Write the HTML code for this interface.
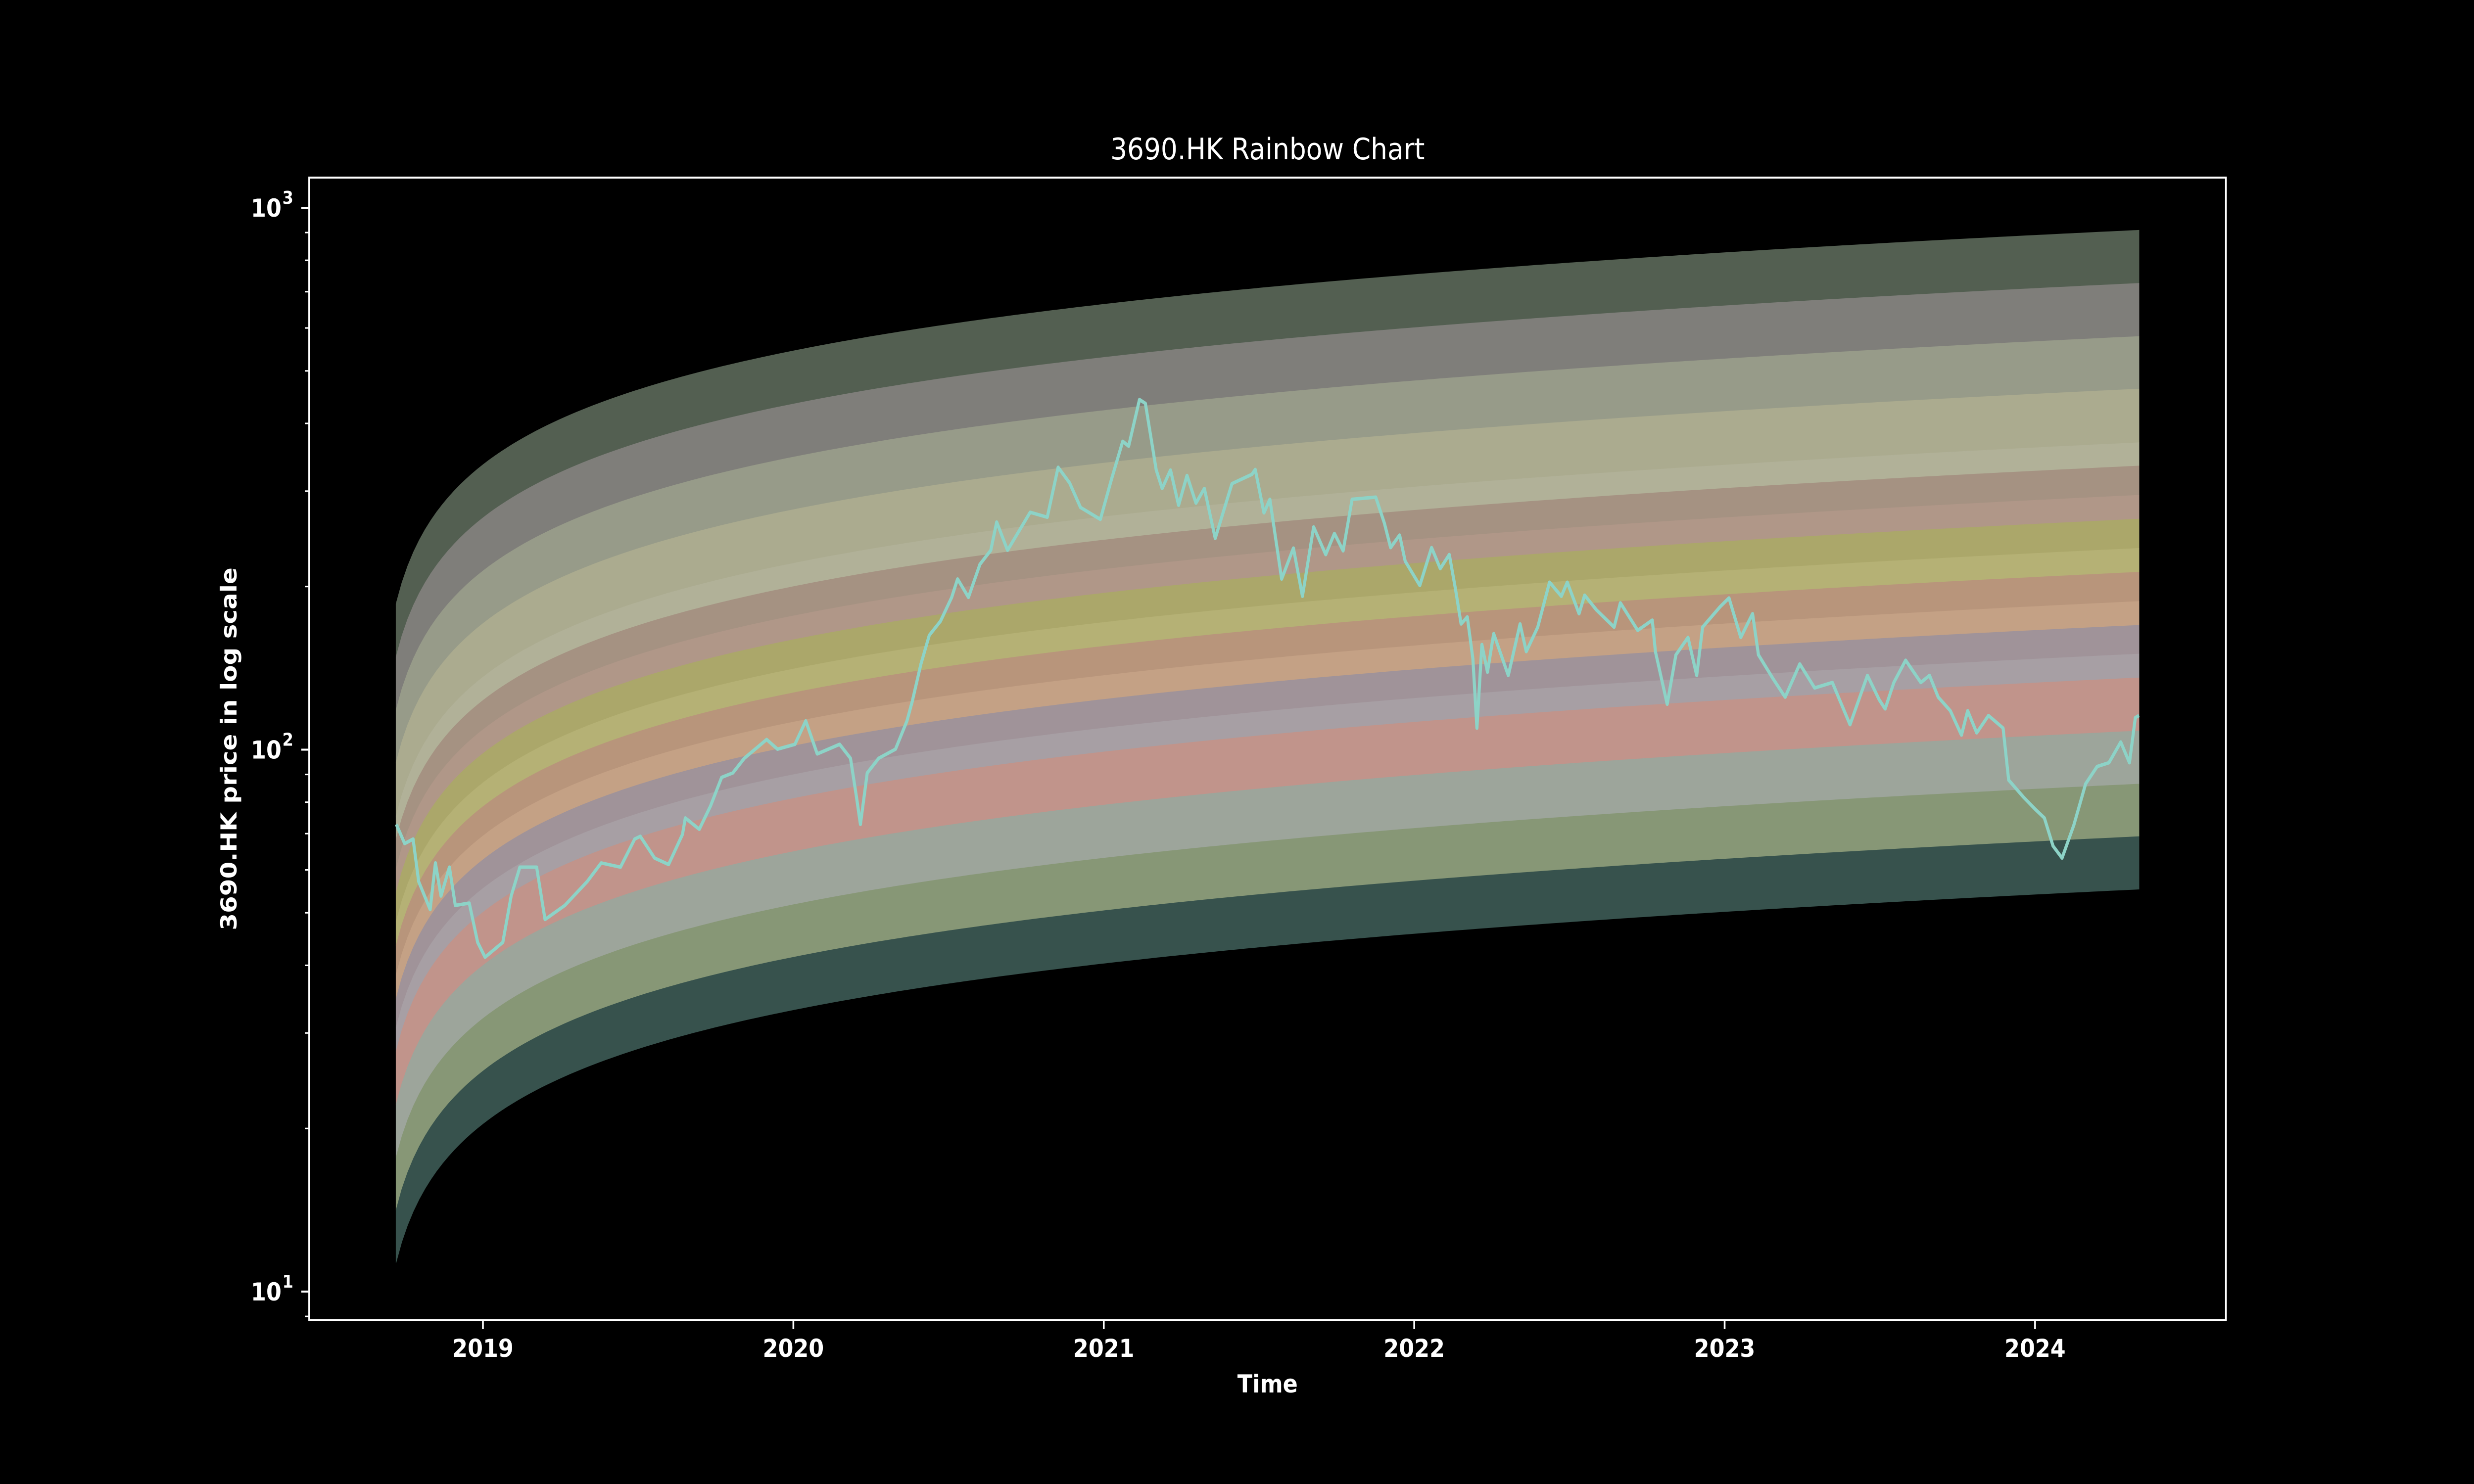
<!DOCTYPE html>
<html><head><meta charset="utf-8"><style>
html,body{margin:0;padding:0;background:#000;overflow:hidden;width:100%;height:100%;}
svg{display:block;width:100vw;height:100vh;}
text{font-family:"DejaVu Sans","Liberation Sans",sans-serif;fill:#fff;}
</style></head><body>
<svg id="chart" viewBox="0 0 5625 3000" preserveAspectRatio="none" xmlns="http://www.w3.org/2000/svg">
<rect width="5625" height="3000" fill="#000"/>
<g id="bands"></g>
<g id="price"></g>
<g id="axes"></g>
<rect x="703" y="359" width="4358" height="2310" fill="none" stroke="#fff" stroke-width="4"/>
<text x="2882" y="322" font-size="60" text-anchor="middle">3690.HK Rainbow Chart</text>
<text x="2882" y="2815" font-size="50" font-weight="bold" text-anchor="middle">Time</text>
<text x="0" y="0" font-size="50" font-weight="bold" text-anchor="middle" transform="translate(538,1514) rotate(-90)">3690.HK price in log scale</text>
</svg>
<script>
const bandOffsets = [1.216,1.118,1.020,0.923,0.824,0.781,0.727,0.683,0.629,0.585,0.531,0.487,0.434,0.390,0.292,0.194,0.097,0];
const bandColors = ["#535f51","#7f7e7a","#979b89","#abab8f","#b1b198","#a59282","#b09788","#aba76a","#b5b175","#b8957b","#c4a185","#a09399","#a79fa4","#c1948b","#9da59b","#879776","#37524d"];
const bandStart = 2018.72;
const bandEnd = 2024.335;
const bandBase = 11.3;
const bandExp = 0.356;
const bandLag = 24;
const xTicks = [2019,2020,2021,2022,2023,2024];
const yMajor = [10,100,1000];
const yMajorLabels = ["1","2","3"];
const dates = [2018.721,2018.748,2018.775,2018.793,2018.830,2018.847,2018.865,2018.892,2018.911,2018.956,2018.983,2019.007,2019.064,2019.091,2019.119,2019.173,2019.200,2019.264,2019.336,2019.381,2019.443,2019.489,2019.507,2019.553,2019.598,2019.643,2019.652,2019.697,2019.733,2019.769,2019.805,2019.842,2019.914,2019.949,2020.005,2020.040,2020.077,2020.149,2020.184,2020.203,2020.216,2020.238,2020.275,2020.329,2020.366,2020.383,2020.411,2020.438,2020.474,2020.510,2020.529,2020.564,2020.601,2020.636,2020.655,2020.690,2020.763,2020.818,2020.853,2020.890,2020.925,2020.989,2021.025,2021.061,2021.080,2021.115,2021.134,2021.169,2021.188,2021.215,2021.241,2021.268,2021.297,2021.324,2021.359,2021.413,2021.477,2021.488,2021.516,2021.535,2021.573,2021.611,2021.640,2021.676,2021.715,2021.743,2021.771,2021.800,2021.876,2021.904,2021.924,2021.953,2021.971,2022.018,2022.056,2022.084,2022.113,2022.133,2022.151,2022.171,2022.189,2022.202,2022.218,2022.236,2022.256,2022.303,2022.341,2022.361,2022.398,2022.436,2022.474,2022.493,2022.531,2022.549,2022.587,2022.644,2022.664,2022.720,2022.767,2022.777,2022.815,2022.843,2022.882,2022.910,2022.929,2022.986,2023.014,2023.052,2023.090,2023.109,2023.157,2023.195,2023.242,2023.290,2023.347,2023.404,2023.460,2023.498,2023.517,2023.545,2023.583,2023.632,2023.660,2023.688,2023.727,2023.763,2023.783,2023.812,2023.850,2023.897,2023.915,2023.963,2024.001,2024.030,2024.058,2024.087,2024.125,2024.163,2024.200,2024.238,2024.276,2024.304,2024.323,2024.335];
const prices = [72.8,67.1,68.4,57.1,50.7,61.8,53.7,60.7,51.6,52.1,44.1,41.4,44.1,53.7,60.7,60.7,48.6,51.6,57.1,61.8,60.7,68.4,69.2,63.1,61.4,69.8,74.8,71.3,78.7,88.9,90.6,96.4,104.4,100.2,102.3,113,98.2,102.3,96.4,82,72.8,90.6,96.4,100.2,113,122.7,143.9,162.6,172.6,191,206.5,191,219.8,233.3,263,233.3,274.2,268.5,331.9,310.5,279.9,266.1,315.5,370.7,363.1,442.6,435.5,328.1,303.4,328.1,282.5,320.6,285.1,303.4,245.5,309.7,322.1,328.9,273.5,289.7,206.5,235.5,191.9,257.6,229.1,250.6,232.8,289.7,292.4,261.8,236,248.9,222.8,200.9,236,215.8,229.1,197.7,170.6,175.8,147.2,109.6,156.3,139,163.7,137.1,170.6,151.7,168.3,203.7,191.9,203.7,178.2,192.8,181.1,168.3,186.6,166,173.4,151.7,121.3,149.6,161.1,137.1,168.3,183.7,190.5,161.1,178.2,149.6,134.9,125,143.9,130,133,111.2,137.1,123.6,118.9,133,146.2,133,137.1,125,118,106.4,118,107.4,115.6,109.6,87.9,81.7,77.6,74.8,66.4,63.1,72.6,86.5,93.1,94.6,103.3,94.6,114.6,115.6];

const NS = "http://www.w3.org/2000/svg";
function xs(t){ return 1098 + (t - 2019) * 705.8; }
function ys(p){ return 420 + (3 - Math.log10(p)) * 1095.5; }
function bottomLog(t){
  const d = (t - bandStart) * 365.25;
  return Math.log10(bandBase) + bandExp * Math.log10((d + bandLag) / bandLag);
}
function mk(tag, attrs, parent){
  const e = document.createElementNS(NS, tag);
  for (const k in attrs) e.setAttribute(k, attrs[k]);
  parent.appendChild(e); return e;
}
const bandsG = document.getElementById('bands');
const N = 300;
const ts = [];
for (let i = 0; i <= N; i++) ts.push(bandStart + (bandEnd - bandStart) * i / N);
for (let b = 0; b < bandColors.length; b++) {
  const up = bandOffsets[b], lo = bandOffsets[b + 1];
  let pts = [];
  ts.forEach(t => pts.push(xs(t).toFixed(1) + ',' + ys(Math.pow(10, bottomLog(t) + up)).toFixed(1)));
  for (let i = ts.length - 1; i >= 0; i--) { const t = ts[i]; pts.push(xs(t).toFixed(1) + ',' + ys(Math.pow(10, bottomLog(t) + lo)).toFixed(1)); }
  const poly = mk('polygon', {points: pts.join(' '), fill: bandColors[b], stroke: bandColors[b], 'stroke-width': 1}, bandsG);
  
  
}
const priceG = document.getElementById('price');
const line = mk('polyline', {points: dates.map((t, i) => xs(t).toFixed(1) + ',' + ys(prices[i]).toFixed(1)).join(' '), fill: 'none', stroke: '#8dd3c7', 'stroke-width': 7, 'stroke-linejoin': 'round'}, priceG);



const axesG = document.getElementById('axes');
xTicks.forEach(y => {
  const x = xs(y);
  const tk = mk('line', {x1: x, x2: x, y1: 2669, y2: 2687, stroke: '#fff', 'stroke-width': 4}, axesG);
  
  
  const lb = mk('text', {x: x, y: 2743, 'font-size': 50, 'font-weight': 'bold', 'text-anchor': 'middle'}, axesG);
  lb.textContent = y;
  
  
});
yMajor.forEach((v, i) => {
  const y = ys(v);
  const tk = mk('line', {x1: 685, x2: 703, y1: y, y2: y, stroke: '#fff', 'stroke-width': 4}, axesG);
  
  
  const lb = mk('text', {x: 640, y: y + 18, 'font-size': 50, 'font-weight': 'bold', 'text-anchor': 'end'}, axesG);
  lb.textContent = '10';
  
  
  const sup = mk('text', {x: 642, y: y - 8, 'font-size': 36, 'font-weight': 'bold', 'text-anchor': 'start'}, axesG);
  sup.textContent = yMajorLabels[i];
  
  
  if (v < 1000) {
    for (let m = 2; m <= 9; m++) {
      const yy = ys(v * m);
      const mt = mk('line', {x1: 693, x2: 703, y1: yy, y2: yy, stroke: '#fff', 'stroke-width': 3}, axesG);
      
      
    }
  }
});
[2,3,4,5,6,7,8,9].forEach(m => {
  const yy = ys(m);
  if (yy < 2669) {
    const mt = mk('line', {x1: 693, x2: 703, y1: yy, y2: yy, stroke: '#fff', 'stroke-width': 3}, axesG);
    
    
  }
});
</script>
</body></html>
